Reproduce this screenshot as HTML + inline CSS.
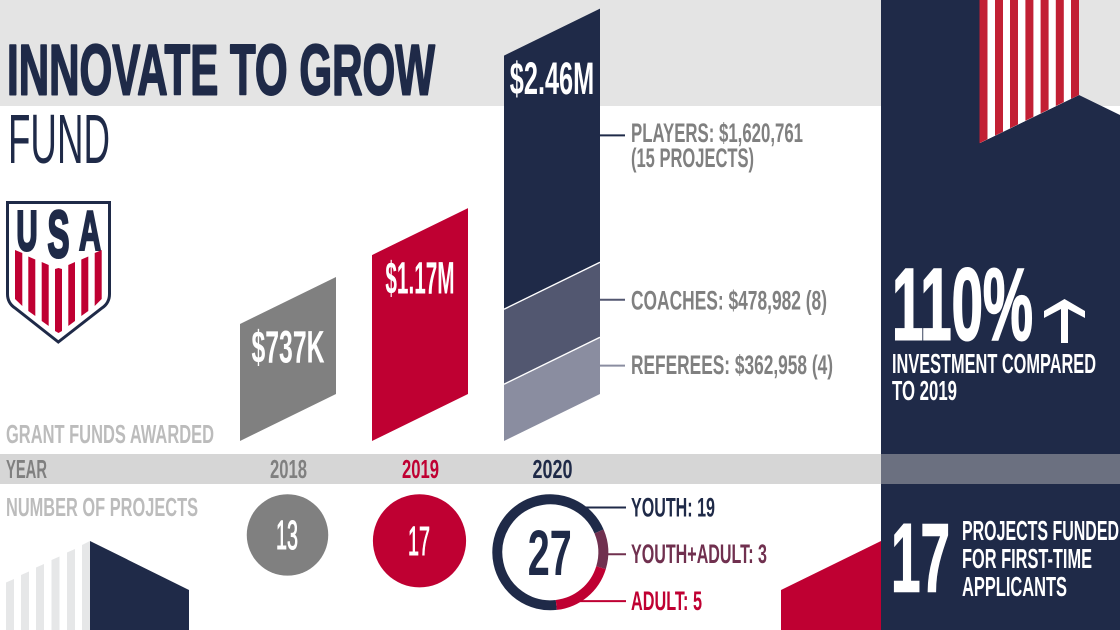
<!DOCTYPE html>
<html lang="en">
<head>
<meta charset="utf-8">
<title>Innovate to Grow Fund</title>
<style>
html,body{margin:0;padding:0;background:#fff}
#stage{display:block;width:1120px;height:630px;font-family:"Liberation Sans",sans-serif}
text{font-family:"Liberation Sans",sans-serif}
</style>
</head>
<body>
<svg id="stage" xmlns="http://www.w3.org/2000/svg" width="1120" height="630" viewBox="0 0 1120 630">
  <rect x="0" y="0" width="1120" height="630" fill="#ffffff"/>
  <rect x="0" y="0" width="1120" height="106" fill="#e4e4e4"/>
  <rect x="0" y="454" width="881" height="30" fill="#d6d6d6"/>

  <polygon fill="#1f2a48" points="881,0 980,0 980,143 1079,95 1120,115 1120,630 881,630"/>
  <rect x="881" y="454" width="239" height="30" fill="#6b7080"/>

  <g>
    <polygon fill="#ffffff" points="980,0 1079,0 1079,95 980,143"/>
    <polygon fill="#c22034" points="979.5,0 987.5,0 987.5,139.3 979.5,143.2"/>
    <polygon fill="#c22034" points="995,0 1003,0 1003,131.7 995,135.6"/>
    <polygon fill="#c22034" points="1010,0 1018,0 1018,124.4 1010,128.3"/>
    <polygon fill="#c22034" points="1025.4,0 1033.4,0 1033.4,116.9 1025.4,120.8"/>
    <polygon fill="#c22034" points="1040.6,0 1048.6,0 1048.6,109.5 1040.6,113.4"/>
    <polygon fill="#c22034" points="1055.8,0 1063.8,0 1063.8,102.1 1055.8,106"/>
    <polygon fill="#c22034" points="1071,0 1079,0 1079,95 1071,98.9"/>
  </g>

  <polygon fill="#bf0032" points="781,590 881,541 881,630 781,630"/>
  <g>
    <polygon fill="#e6e7e8" points="6,582.5 14,579 14,630 6,630"/>
    <polygon fill="#e6e7e8" points="21,575 29,571.5 29,630 21,630"/>
    <polygon fill="#e6e7e8" points="36,567.5 44,564 44,630 36,630"/>
    <polygon fill="#e6e7e8" points="51.5,560 59.5,556.5 59.5,630 51.5,630"/>
    <polygon fill="#e6e7e8" points="67,552.5 75,549 75,630 67,630"/>
    <polygon fill="#e6e7e8" points="82,545 90,541 90,630 82,630"/>
    <polygon fill="#1f2a48" points="90,541 189,590 189,630 90,630"/>
  </g>

  <text x="7" y="94.5" font-size="71" font-weight="700" fill="#1f2a48" stroke="#1f2a48" stroke-width="2" stroke-linejoin="round" textLength="428" lengthAdjust="spacingAndGlyphs">INNOVATE TO GROW</text>
  <text x="8" y="163" font-size="70" fill="#1f2a48" textLength="102" lengthAdjust="spacingAndGlyphs">FUND</text>

  <g>
    <path fill="#ffffff" stroke="#1f2a48" stroke-width="3" d="M7.5,202.5 H109.5 V294 Q109.5,303 102,308 L58.3,342 L15,308 Q7.5,303 7.5,294 Z"/>
    <text x="16.5" y="250" font-size="56" font-weight="700" fill="#1f2a48" stroke="#1f2a48" stroke-width="3" textLength="21" lengthAdjust="spacingAndGlyphs">U</text>
    <text x="47.5" y="257" font-size="66" font-weight="700" fill="#1f2a48" stroke="#1f2a48" stroke-width="3" textLength="22" lengthAdjust="spacingAndGlyphs">S</text>
    <text x="79" y="250" font-size="56" font-weight="700" fill="#1f2a48" stroke="#1f2a48" stroke-width="2.5" textLength="22" lengthAdjust="spacingAndGlyphs">A</text>
    <polygon fill="#bf0032" points="15,250 22.3,253 22.3,306 15,299"/>
    <polygon fill="#bf0032" points="28.3,256.5 35.3,259.5 35.3,316 28.3,311"/>
    <polygon fill="#bf0032" points="41.7,262 48.7,265 48.7,326 41.7,321"/>
    <polygon fill="#bf0032" points="55,269 58.5,268 62,269 62,331 58.5,333 55,331"/>
    <polygon fill="#bf0032" points="68.3,265 75,262 75,321 68.3,326"/>
    <polygon fill="#bf0032" points="81.3,259.5 88.3,256.5 88.3,311 81.3,316"/>
    <polygon fill="#bf0032" points="94.7,253 101.7,250 101.7,299 94.7,306"/>
  </g>

  <text x="6" y="443" font-size="26" font-weight="700" fill="#bcbcbc" textLength="208" lengthAdjust="spacingAndGlyphs">GRANT FUNDS AWARDED</text>
  <text x="6" y="478" font-size="26" font-weight="700" fill="#808080" textLength="41" lengthAdjust="spacingAndGlyphs">YEAR</text>
  <text x="6" y="516" font-size="26" font-weight="700" fill="#bcbcbc" textLength="192" lengthAdjust="spacingAndGlyphs">NUMBER OF PROJECTS</text>

  <g id="bars"></g>
  <g id="segments"></g>
  <g id="years"></g>
  <g id="circles"></g>
  <g id="donut"></g>

  <text x="892" y="339.5" font-size="102" font-weight="700" fill="#ffffff" stroke="#ffffff" stroke-width="2" textLength="141" lengthAdjust="spacingAndGlyphs">110%</text>
  <polygon fill="#ffffff" points="1064.5,299 1085,311 1085,318 1068,309 1068,343 1061,343 1061,309 1044,318 1044,311"/>
  <text x="892" y="373" font-size="28" font-weight="700" fill="#ffffff" textLength="204" lengthAdjust="spacingAndGlyphs">INVESTMENT COMPARED</text>
  <text x="892" y="400" font-size="28" font-weight="700" fill="#ffffff" textLength="65" lengthAdjust="spacingAndGlyphs">TO 2019</text>

  <text x="891" y="591.5" font-size="97" font-weight="700" fill="#ffffff" stroke="#ffffff" stroke-width="1.5" textLength="59" lengthAdjust="spacingAndGlyphs">17</text>
  <text x="962" y="540" font-size="28" font-weight="700" fill="#ffffff" textLength="157" lengthAdjust="spacingAndGlyphs">PROJECTS FUNDED</text>
  <text x="962" y="568" font-size="28" font-weight="700" fill="#ffffff" textLength="130" lengthAdjust="spacingAndGlyphs">FOR FIRST-TIME</text>
  <text x="962" y="596" font-size="28" font-weight="700" fill="#ffffff" textLength="105" lengthAdjust="spacingAndGlyphs">APPLICANTS</text>
</svg>

<script>
var years = ['2018', '2019', '2020'];
var awardedThousands = [748, 1188, 2462.7];
var awardedLabels = ['$737K', '$1.17M', '$2.46M'];
var projectCounts = [13, 17, 27];
var segmentNames = ['referees', 'coaches', 'players'];
var segmentValues = [362.958, 478.982, 1620.761];
var segmentLabels = ['REFEREES: $362,958 (4)', 'COACHES: $478,982 (8)', 'PLAYERS: $1,620,761'];
var projectTypes = ['YOUTH', 'YOUTH+ADULT', 'ADULT'];
var projectTypeCounts = [19, 3, 5];

var NS = 'http://www.w3.org/2000/svg';
var NAVY = '#1f2a48', RED = '#bf0032', GREY = '#808080';
var barColors = [GREY, RED, NAVY];
var segmentColors = ['#8a8da0', '#525770', NAVY];
var leaderColors = ['#8a8da0', '#525770', NAVY];
var typeColors = [NAVY, '#70304f', RED];

var baseY = 441, barW = 96, skew = 47;
function xCol(i) { return 240 + i * 132; }
function h(v) { return v * 0.1565; }
function rCircle(n) { return 11.3 * Math.sqrt(n); }
function angle(v) { return v / 27 * 360; }

function el(tag, parent, attrs) {
  var e = document.createElementNS(NS, tag);
  for (var k in attrs) e.setAttribute(k, attrs[k]);
  parent.appendChild(e);
  return e;
}
function labelWidth(s) {
  var w = 0;
  for (var i = 0; i < s.length; i++) {
    var c = s[i];
    w += c === '1' ? 7 : c === '.' ? 6 : c === 'M' ? 20 : 14.6;
  }
  return w;
}

var barsG = document.getElementById('bars');
var segG = document.getElementById('segments');
var yearsG = document.getElementById('years');
var circG = document.getElementById('circles');
var donutG = document.getElementById('donut');

function quad(parent, x, yBottom, height, fill) {
  var pts = [x, yBottom - height, x + barW, yBottom - height - skew, x + barW, yBottom - skew, x, yBottom].join(' ');
  return el('polygon', parent, { points: pts, fill: fill });
}

years.forEach(function (yr, i) {
  var x = xCol(i);
  if (i < 2) {
    var bar = quad(barsG, x, baseY, h(awardedThousands[i]), barColors[i]);
    
    
  }
});

var stack = 0;
segmentValues.forEach(function (v, i) {
  var x = xCol(2);
  var yb = baseY - h(stack);
  var seg = quad(barsG, x, yb, h(v), segmentColors[i]);
  
  
  if (i > 0) {
    var sep = el('line', barsG, { x1: x, y1: yb, x2: x + barW, y2: yb - skew, stroke: '#ffffff', 'stroke-width': 1.4 });
    
    
  }
  var midY = yb - skew - h(v) / 2;
  var leader = el('line', segG, { x1: x + barW, y1: midY, x2: 625, y2: midY, stroke: leaderColors[i], 'stroke-width': 2 });
  
  
  var lab = el('text', segG, { x: 631, y: midY + (i === 2 ? 6.6 : 8.4 + i * 1.2), 'font-size': 27, 'font-weight': 700, fill: GREY, textLength: i === 0 ? 202 : i === 1 ? 196 : 172, lengthAdjust: 'spacingAndGlyphs' });
  lab.textContent = segmentLabels[i];
  
  
  if (i === 2) {
    var lab2 = el('text', segG, { x: 631, y: midY + 31.6, 'font-size': 27, 'font-weight': 700, fill: GREY, textLength: 123, lengthAdjust: 'spacingAndGlyphs' });
    lab2.textContent = '(15 PROJECTS)';
    
    
  }
  stack += v;
});

years.forEach(function (yr, i) {
  var x = xCol(i);
  var cx = x + barW / 2;
  var topLeft = baseY - h(awardedThousands[i]);
  var t = el('text', barsG, { x: cx, y: topLeft + 38.5, 'font-size': 45, 'font-weight': 700, fill: '#ffffff', 'text-anchor': 'middle', textLength: labelWidth(awardedLabels[i]), lengthAdjust: 'spacingAndGlyphs' });
  t.textContent = awardedLabels[i];
  
  

  var yl = el('text', yearsG, { x: cx + 0.5, y: 478, 'font-size': 26, 'font-weight': 700, fill: barColors[i], 'text-anchor': 'middle', textLength: i === 2 ? 40 : 37, lengthAdjust: 'spacingAndGlyphs' });
  yl.textContent = yr;
  
  

  if (i < 2) {
    var r = rCircle(projectCounts[i]);
    var c = el('circle', circG, { cx: cx - 0.5, cy: 494.2 + r, r: r, fill: barColors[i] });
    
    
    var n = el('text', circG, { x: cx - 1, y: 494.2 + r + 14, 'font-size': 41, fill: '#ffffff', stroke: '#ffffff', 'stroke-width': 1, 'font-weight': 400, 'text-anchor': 'middle', textLength: 22, lengthAdjust: 'spacingAndGlyphs' });
    n.textContent = projectCounts[i];
    
    
  }
});

var dcx = 550.3, dcy = 552.3, dr = 53, startAngle = 173.5;
function polar(a, r) {
  var rad = (a - 90) * Math.PI / 180;
  return [dcx + r * Math.cos(rad), dcy + r * Math.sin(rad)];
}

projectTypes.forEach(function (name, i) {
  var rowY = 507.5 + i * 46.8;
  var dy = rowY - dcy;
  var startX = dcx + Math.sqrt(Math.max(0, dr * dr - dy * dy));
  var ln = el('line', donutG, { x1: startX, y1: rowY, x2: 626, y2: rowY, stroke: typeColors[i], 'stroke-width': 2 });
  
  
  var str = name + ': ' + projectTypeCounts[i];
  var t = el('text', donutG, { x: 631, y: rowY + 8.8, 'font-size': 26.5, 'font-weight': 700, fill: typeColors[i], textLength: i === 0 ? 84 : i === 1 ? 136 : 71, lengthAdjust: 'spacingAndGlyphs' });
  t.textContent = str;
  
  
});

var acc = 0;
projectTypeCounts.forEach(function (v, i) {
  var a0 = startAngle + angle(acc);
  var a1 = startAngle + angle(acc + v);
  var p0 = polar(a0, dr), p1 = polar(a1, dr);
  var large = (a1 - a0) > 180 ? 1 : 0;
  var d = 'M' + p0[0] + ',' + p0[1] + ' A' + dr + ',' + dr + ' 0 ' + large + ' 1 ' + p1[0] + ',' + p1[1];
  var arc = el('path', donutG, { d: d, fill: 'none', stroke: typeColors[i], 'stroke-width': 10 });
  
  
  acc += v;
});

var total = el('text', donutG, { x: dcx - 0.5, y: 575, 'font-size': 64, 'font-weight': 700, fill: NAVY, 'text-anchor': 'middle', textLength: 44, lengthAdjust: 'spacingAndGlyphs' });
total.textContent = projectCounts[2];


</script>
</body>
</html>
